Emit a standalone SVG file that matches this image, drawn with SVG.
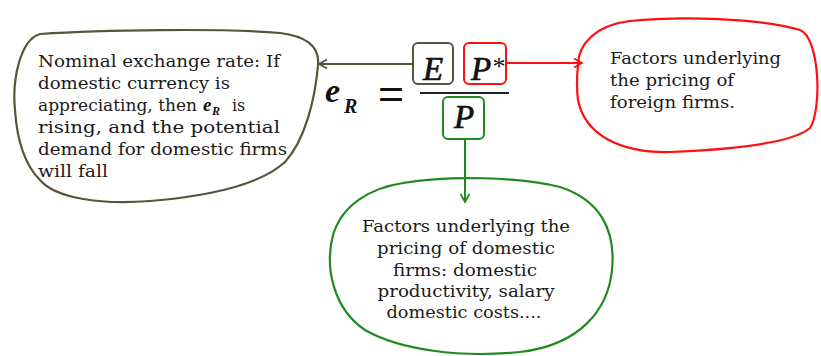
<svg xmlns="http://www.w3.org/2000/svg" width="821" height="356" viewBox="0 0 821 356">
<style>
.blob{fill:none;stroke-width:2.2;stroke-linejoin:round}
.olive{stroke:#58543c}
.red{stroke:#ff1010}
.green{stroke:#1f8a1f}
.box{fill:none;stroke-width:2}
.txt{font-family:"DejaVu Serif","Liberation Serif",serif;font-size:16px;fill:#1a1a1a}
.math{font-family:"Liberation Serif","DejaVu Serif",serif;font-style:italic;fill:#111}
.heavy{stroke:#111;stroke-width:0.7}
.conn{fill:none;stroke-width:2}
</style>
<defs>
<marker id="ah-olive" markerWidth="12" markerHeight="12" refX="9" refY="5" orient="auto" markerUnits="userSpaceOnUse"><path d="M1,0.5 L9,5 L1,9.5" fill="none" stroke="#58543c" stroke-width="1.8"/></marker>
<marker id="ah-red" markerWidth="12" markerHeight="12" refX="9" refY="5" orient="auto" markerUnits="userSpaceOnUse"><path d="M1,0.5 L9,5 L1,9.5" fill="none" stroke="#ff1010" stroke-width="1.8"/></marker>
<marker id="ah-green" markerWidth="12" markerHeight="12" refX="9" refY="5" orient="auto" markerUnits="userSpaceOnUse"><path d="M1,0.5 L9,5 L1,9.5" fill="none" stroke="#1f8a1f" stroke-width="1.8"/></marker>
</defs>
<rect width="821" height="356" fill="#fff"/>

<g id="formula">
<text class="math" x="325" y="102" font-size="34" font-weight="bold">e</text>
<text class="math" x="344" y="113" font-size="20" font-weight="bold">R</text>
<text x="391" y="108" font-family="Liberation Sans,sans-serif" font-size="40" text-anchor="middle" fill="#111" textLength="26" lengthAdjust="spacingAndGlyphs">=</text>
<line x1="420" y1="93" x2="509" y2="93" stroke="#222" stroke-width="2"/>
</g>

<g id="box-E">
<rect class="box olive" x="413" y="43" width="40" height="41" rx="5"/>
<text class="math heavy" x="433" y="80" font-size="33" text-anchor="middle">E</text>
</g>
<g id="box-Pstar">
<rect class="box red" x="464" y="43" width="42" height="41" rx="5"/>
<text class="math heavy" x="481" y="80" font-size="33" text-anchor="middle">P</text>
<text x="499" y="75" font-family="Liberation Serif,serif" font-size="26" text-anchor="middle" fill="#111">*</text>
</g>
<g id="box-P">
<rect class="box green" x="443" y="97" width="41" height="42" rx="5"/>
<text class="math heavy" x="464" y="128" font-size="33" text-anchor="middle">P</text>
</g>

<g id="node-nominal">
<path class="blob olive" d="M40,34 C20,40 12,80 15,110 C17,140 25,165 40,180 C55,198 100,205 150,201 C210,196 260,185 285,162 C305,140 315,100 318,65 C320,45 305,36 280,33 C220,28 100,30 40,34 Z"/>
<text class="txt" x="38" y="67" textLength="242" lengthAdjust="spacingAndGlyphs">Nominal exchange rate: If</text>
<text class="txt" x="38" y="89" textLength="192" lengthAdjust="spacingAndGlyphs">domestic currency is</text>
<text class="txt" x="38" y="111" textLength="159" lengthAdjust="spacingAndGlyphs">appreciating, then</text>
<text class="math" x="203" y="111" font-size="19" font-weight="bold">e</text>
<text class="math" x="212" y="115" font-size="12" font-weight="bold">R</text>
<text class="txt" x="232" y="111">is</text>
<text class="txt" x="38" y="133" textLength="242" lengthAdjust="spacingAndGlyphs">rising, and the potential</text>
<text class="txt" x="38" y="155" textLength="249" lengthAdjust="spacingAndGlyphs">demand for domestic firms</text>
<text class="txt" x="38" y="177" textLength="70" lengthAdjust="spacingAndGlyphs">will fall</text>
</g>

<g id="node-foreign">
<path class="blob red" d="M578,65 C578,45 595,25 630,21 C680,16 760,18 800,30 C820,38 822,110 810,128 C790,145 720,150 670,152 C620,153 585,135 578,100 C576,85 577,75 578,65 Z"/>
<text class="txt" x="610" y="64" textLength="171" lengthAdjust="spacingAndGlyphs">Factors underlying</text>
<text class="txt" x="610" y="86" textLength="124" lengthAdjust="spacingAndGlyphs">the pricing of</text>
<text class="txt" x="610" y="108" textLength="125" lengthAdjust="spacingAndGlyphs">foreign firms.</text>
</g>

<g id="node-domestic">
<path class="blob green" d="M403,183 C450,175 520,177 560,187 C600,200 616,230 612,270 C608,310 580,345 520,352 C460,358 400,350 365,330 C335,310 324,270 333,235 C342,205 370,188 403,183 Z"/>
<text class="txt" x="466" y="232" text-anchor="middle" textLength="208" lengthAdjust="spacingAndGlyphs">Factors underlying the</text>
<text class="txt" x="466" y="254" text-anchor="middle" textLength="178" lengthAdjust="spacingAndGlyphs">pricing of domestic</text>
<text class="txt" x="465" y="276" text-anchor="middle" textLength="144" lengthAdjust="spacingAndGlyphs">firms: domestic</text>
<text class="txt" x="466" y="297" text-anchor="middle" textLength="177" lengthAdjust="spacingAndGlyphs">productivity, salary</text>
<text class="txt" x="464" y="318" text-anchor="middle" textLength="155" lengthAdjust="spacingAndGlyphs">domestic costs....</text>
</g>

<g id="connectors">
<line class="conn olive" x1="413" y1="64" x2="319" y2="64" marker-end="url(#ah-olive)"/>
<line class="conn red" x1="506" y1="63" x2="582" y2="63" marker-end="url(#ah-red)"/>
<line class="conn green" x1="465" y1="139" x2="465" y2="202" marker-end="url(#ah-green)"/>
</g>
</svg>
